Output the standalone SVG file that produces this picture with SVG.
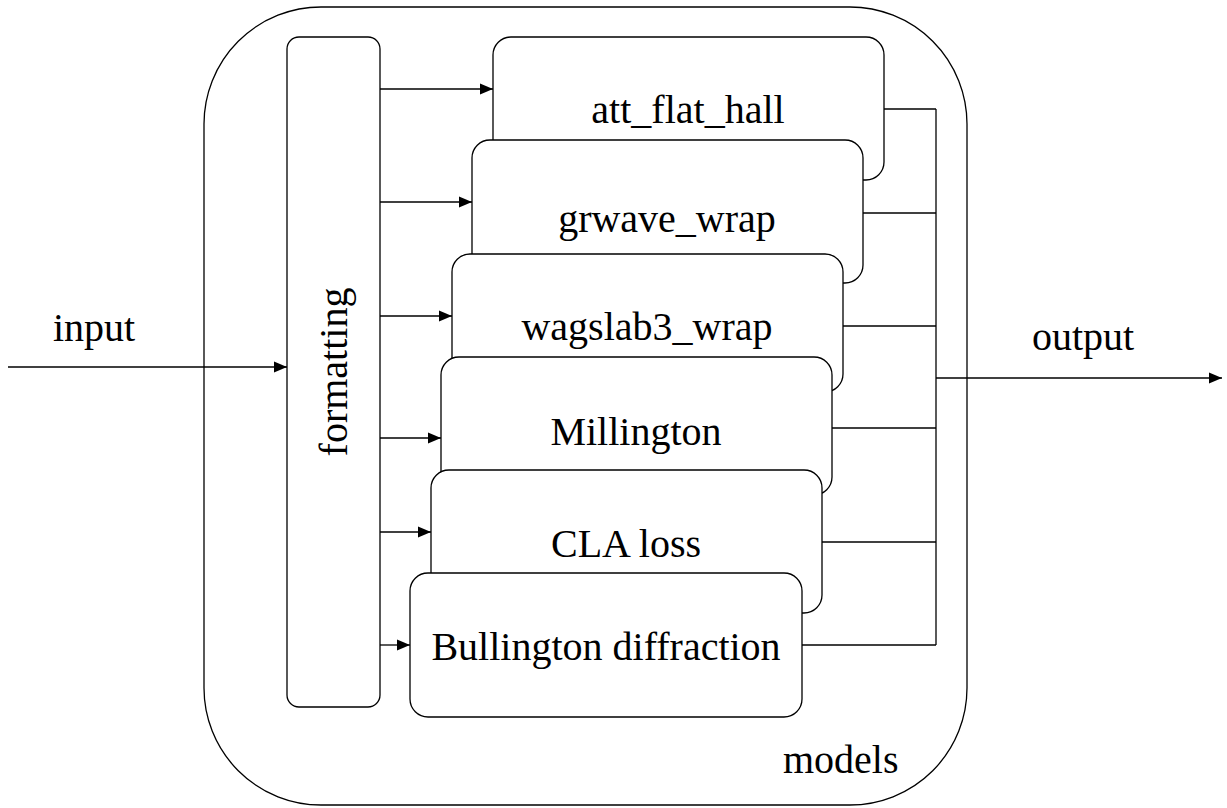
<svg xmlns="http://www.w3.org/2000/svg" width="1227" height="808" viewBox="0 0 1227 808">
  <style>
    .shape { fill: #ffffff; stroke: #000000; stroke-width: 1.3; }
    .wire { fill: none; stroke: #000000; stroke-width: 1.3; }
    text { font-family: 'Liberation Serif', 'DejaVu Serif', serif; font-size: 40px; fill: #000000; }
    .mid { text-anchor: middle; }
  </style>
  <defs>
    <marker id="arrow" markerUnits="userSpaceOnUse" markerWidth="14" markerHeight="12" refX="13" refY="6" orient="auto">
      <path d="M0,0.5 L13,6 L0,11.5 Z" fill="#000000"/>
    </marker>
  </defs>

  <rect width="1227" height="808" fill="#ffffff"/>

  <!-- container -->
  <g id="models">
    <rect class="shape" x="204" y="7" width="763" height="798" rx="117" ry="117"/>
    <text x="783" y="773" font-family="Liberation Serif, serif">models</text>
  </g>

  <!-- pre-processing stage -->
  <g id="formatting">
    <rect class="shape" x="287" y="37" width="93" height="670" rx="12" ry="12"/>
    <text class="mid" transform="translate(347,372) rotate(-90)" font-family="Liberation Serif, serif">formatting</text>
  </g>

  <!-- model blocks, stacked front to back -->
  <g id="att_flat_hall">
    <rect class="shape" x="493" y="37" width="391" height="143" rx="18" ry="18"/>
    <text class="mid" x="688" y="123" font-family="Liberation Serif, serif">att_flat_hall</text>
  </g>
  <g id="grwave_wrap">
    <rect class="shape" x="472" y="140" width="391" height="143" rx="18" ry="18"/>
    <text class="mid" x="667" y="232" font-family="Liberation Serif, serif">grwave_wrap</text>
  </g>
  <g id="wagslab3_wrap">
    <rect class="shape" x="452" y="254" width="391" height="138" rx="18" ry="18"/>
    <text class="mid" x="647" y="340" font-family="Liberation Serif, serif">wagslab3_wrap</text>
  </g>
  <g id="millington">
    <rect class="shape" x="441" y="357" width="391" height="138" rx="18" ry="18"/>
    <text class="mid" x="636" y="445" font-family="Liberation Serif, serif">Millington</text>
  </g>
  <g id="cla_loss">
    <rect class="shape" x="431" y="470" width="391" height="143" rx="18" ry="18"/>
    <text class="mid" x="626" y="557" font-family="Liberation Serif, serif">CLA loss</text>
  </g>
  <g id="bullington">
    <rect class="shape" x="410" y="573" width="392" height="144" rx="18" ry="18"/>
    <text class="mid" x="606" y="660" font-family="Liberation Serif, serif">Bullington diffraction</text>
  </g>

  <!-- data flow -->
  <g id="connectors">
    <line class="wire" x1="8" y1="367" x2="287" y2="367" marker-end="url(#arrow)"/>
    <line class="wire" x1="380" y1="89" x2="493" y2="89" marker-end="url(#arrow)"/>
    <line class="wire" x1="380" y1="202" x2="472" y2="202" marker-end="url(#arrow)"/>
    <line class="wire" x1="380" y1="316" x2="452" y2="316" marker-end="url(#arrow)"/>
    <line class="wire" x1="380" y1="438" x2="441" y2="438" marker-end="url(#arrow)"/>
    <line class="wire" x1="380" y1="532" x2="431" y2="532" marker-end="url(#arrow)"/>
    <line class="wire" x1="380" y1="645" x2="410" y2="645" marker-end="url(#arrow)"/>

    <line class="wire" x1="884" y1="109" x2="936" y2="109"/>
    <line class="wire" x1="863" y1="213" x2="936" y2="213"/>
    <line class="wire" x1="843" y1="326" x2="936" y2="326"/>
    <line class="wire" x1="832" y1="428" x2="936" y2="428"/>
    <line class="wire" x1="822" y1="542" x2="936" y2="542"/>
    <line class="wire" x1="802" y1="645" x2="936" y2="645"/>
    <line class="wire" x1="936" y1="109" x2="936" y2="645"/>
    <line class="wire" x1="936" y1="378" x2="1222" y2="378" marker-end="url(#arrow)"/>
  </g>

  <g id="io_labels">
    <text x="53" y="341" font-family="Liberation Serif, serif">input</text>
    <text x="1032" y="350" font-family="Liberation Serif, serif">output</text>
  </g>
</svg>
